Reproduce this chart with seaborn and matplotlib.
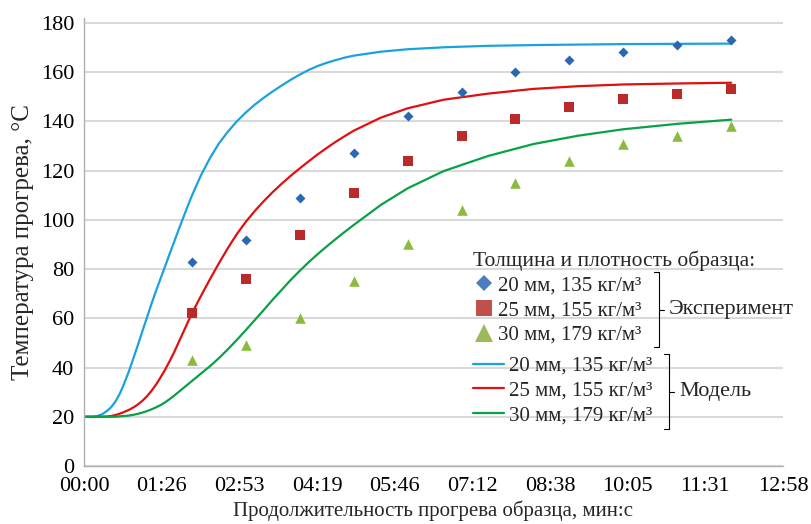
import numpy as np
import pandas as pd
import matplotlib
matplotlib.use("Agg")
import matplotlib.pyplot as plt
from matplotlib.lines import Line2D
import seaborn as sns

###############################################################################

# experiment points, time in seconds
exp_t = [120, 180, 240, 300, 360, 420, 480, 540, 600, 660, 720]
exp_20 = [83, 92, 109, 127, 142, 152, 160, 165, 168, 171, 173]
exp_25 = [62, 76, 94, 111, 124, 134, 141, 146, 149, 151, 153]
exp_30 = [43, 49, 60, 75, 90, 104, 115, 124, 131, 134, 138]

# model curves
mod_t = [0, 5, 10, 15, 20, 25, 30, 35, 40, 45, 50, 55, 60, 65, 70, 75, 80,
         85, 90, 95, 100, 105, 110, 115, 120,
         130, 140, 150, 160, 170, 180, 190, 200, 210, 220, 230, 240, 250,
         260, 270, 280, 290, 300,
         330, 360, 400, 450, 500, 550, 600, 660, 720]
mod_20 = [20, 20, 20, 20.3, 21, 22.2, 23.8, 26.2, 29.5, 33.8, 38.5, 43.8,
          49.2, 54.8, 60.3, 65.8, 71, 76, 80.9, 85.9, 90.8, 95.7, 100.5,
          105.2, 109.8,
          118, 125, 131, 135.8, 140, 143.6, 146.8, 149.6, 152.2, 154.6,
          156.9, 159, 160.9, 162.5, 163.8, 164.9, 165.9, 166.7,
          168.3, 169.3, 170.1, 170.7, 171, 171.2, 171.4, 171.5, 171.6]
mod_25 = [20, 20, 20, 20, 20, 20.1, 20.3, 20.7, 21.3, 22, 22.8, 23.8, 25,
          26.5, 28.3, 30.5, 33, 35.9, 39, 42.4, 46, 50, 54, 58, 62,
          69, 75.8, 82.3, 88.5, 94.2, 99.2, 103.6, 107.6, 111.3, 114.7,
          117.9, 120.9, 123.8, 126.6, 129.2, 131.7, 134, 136.2,
          141.5, 145.3, 148.8, 151.3, 153.2, 154.3, 155, 155.4, 155.7]
mod_30 = [20, 20, 20, 20, 20, 20, 20, 20, 20.2, 20.3, 20.5, 20.8, 21.2,
          21.7, 22.3, 23, 23.8, 24.7, 25.8, 27.1, 28.5, 30, 31.5, 33, 34.5,
          37.5, 40.5, 43.8, 47.4, 51.2, 55.2, 59.3, 63.4, 67.6, 71.6, 75.6,
          79.3, 82.8, 86.1, 89.2, 92.2, 95.1, 97.9,
          106, 112.8, 119.8, 126, 130.8, 134.2, 136.8, 139, 140.7]

series_names = ["20 мм, 135 кг/м³", "25 мм, 155 кг/м³", "30 мм, 179 кг/м³"]

x_ticks = [i * 86.4 for i in range(10)]
x_tick_labels = ["00:00", "01:26", "02:53", "04:19", "05:46", "07:12",
                 "08:38", "10:05", "11:31", "12:58"]
y_ticks = list(range(0, 181, 20))

###############################################################################

line_cols = ["#1ba2de", "#e01010", "#0aa046"]
mark_cols = ["#2b68b2", "#bb2a2a", "#8cba3c"]
leg_cols = ["#4a7ebe", "#c0504d", "#9bbb59"]
mark_shapes = ["D", "s", "^"]
mark_sizes = [26, 52, 58]
leg_sizes = [8.5, 11.5, 12.5]

sns.set_theme(style="white")
plt.rcParams['font.family'] = 'serif'
plt.rcParams['font.serif'] = ['Liberation Serif', 'DejaVu Serif']

df_mod = pd.DataFrame({
    't': mod_t * 3,
    'T': mod_20 + mod_25 + mod_30,
    'series': np.repeat(series_names, len(mod_t)),
})
df_exp = pd.DataFrame({
    't': exp_t * 3,
    'T': exp_20 + exp_25 + exp_30,
    'series': np.repeat(series_names, len(exp_t)),
})

fig = plt.figure(figsize=(8.12, 5.24), dpi=100)
ax = fig.add_axes([84 / 812, 58 / 524, 699 / 812, 448 / 524])

sns.lineplot(data=df_mod, x='t', y='T', hue='series', palette=line_cols,
             estimator=None, sort=False, linewidth=1.6, legend=False, ax=ax)

for ii, name in enumerate(series_names):
    sub = df_exp[df_exp['series'] == name]
    sns.scatterplot(data=sub, x='t', y='T', color=mark_cols[ii],
                    marker=mark_shapes[ii], s=mark_sizes[ii], linewidth=0,
                    legend=False, ax=ax, zorder=3)

ax.set_xlim(0, 777.6)
ax.set_ylim(0, 182)
ax.set_xticks(x_ticks)
ax.set_xticklabels(x_tick_labels)
ax.set_yticks(y_ticks)
ax.yaxis.grid(True, color='#d9d9d9', linewidth=1.5)
ax.set_axisbelow(True)
for side in ['top', 'right']:
    ax.spines[side].set_visible(False)
for side in ['left', 'bottom']:
    ax.spines[side].set_color('#b0b0b0')
    ax.spines[side].set_linewidth(1.0)
ax.tick_params(axis='both', labelsize=16, colors='#b0b0b0',
               labelcolor='black', length=5, width=1, direction='out',
               pad=3)
ax.tick_params(axis='y', length=4)
for lbl in ax.get_xticklabels() + ax.get_yticklabels():
    lbl.set_fontfamily('serif')

ax.set_xlabel("Продолжительность прогрева образца, мин:с", fontsize=15,
              labelpad=3)
ax.set_ylabel("Температура прогрева, °С", fontsize=18, labelpad=5)

# legends
exp_handles = [Line2D([], [], linestyle='none', marker=mark_shapes[ii],
                      markersize=leg_sizes[ii], markeredgewidth=0,
                      color=leg_cols[ii]) for ii in range(3)]
mod_handles = [Line2D([], [], color=line_cols[ii], linewidth=1.6)
               for ii in range(3)]

leg1 = ax.legend(exp_handles, series_names,
                 title="Толщина и плотность образца:",
                 loc='upper left', bbox_to_anchor=(0.557, 0.482),
                 frameon=False, fontsize=15, title_fontsize=15.5,
                 handlelength=1.0, handletextpad=0.2, labelspacing=0.25,
                 borderaxespad=0, borderpad=0, alignment='left')
ax.add_artist(leg1)
leg2 = ax.legend(mod_handles, series_names, loc='upper left',
                 bbox_to_anchor=(0.5565, 0.245), frameon=False, fontsize=15,
                 handlelength=1.5, handletextpad=0.25, labelspacing=0.25,
                 borderaxespad=0, borderpad=0)

# brackets
def bracket(x, y0, y1, label):
    ym = (y0 + y1) / 2
    xs = [x - 5, x, x, x - 5]
    ys = [y0, y0, y1, y1]
    fig.add_artist(Line2D([v / 812 for v in xs], [1 - v / 524 for v in ys],
                          color='black', linewidth=0.8))
    fig.add_artist(Line2D([x / 812, (x + 5) / 812],
                          [1 - ym / 524, 1 - ym / 524],
                          color='black', linewidth=0.8))
    fig.text((x + 10) / 812, 1 - ym / 524, label, fontsize=16,
             va='center', ha='left')

bracket(659, 272, 347, "Эксперимент")
bracket(669, 354, 429, "Модель")

fig.savefig("out.png", dpi=100)
